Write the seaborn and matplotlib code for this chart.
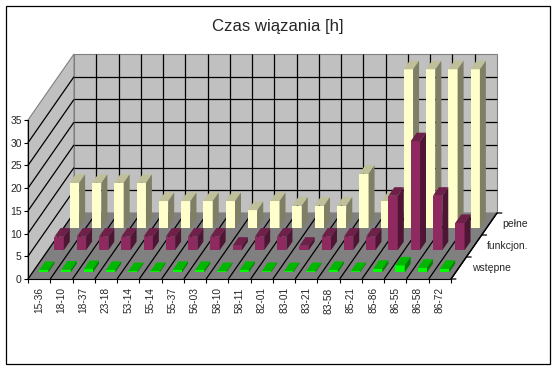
import matplotlib
matplotlib.use('Agg')
import matplotlib.pyplot as plt
from matplotlib.patches import Polygon, Rectangle
import pandas as pd
import seaborn as sns

# dane
kody = ['15-36', '18-10', '18-37', '23-18', '53-14', '55-14', '55-37', '56-03', '58-10', '58-11',
        '82-01', '83-01', '83-21', '83-58', '85-21', '85-86', '86-55', '86-58', '86-72']
pelne = [10, 10, 10, 10, 6, 6, 6, 6, 4, 6, 5, 5, 5, 12, 6, 35, 35, 35, 35]
funkcjon = [3, 3, 3, 3, 3, 3, 3, 3, 1, 3, 3, 1, 3, 3, 3, 12, 24, 12, 6]
wstepne = [0.5, 0.6, 0.7, 0.5, 0.25, 0.25, 0.5, 0.5, 0.25, 0.5, 0.25, 0.25, 0.25, 0.5, 0.25, 0.75, 1.5, 1, 0.75]
serie = ['wstępne', 'funkcjon.', 'pełne']
wartosci = [wstepne, funkcjon, pelne]
kolory = [('#00FF00', '#00B800', '#008000'), ('#8F2A60', '#6E2049', '#4E1634'), ('#FFFFCC', '#BFBF99', '#7F7F66')]
y_ticks = [0, 5, 10, 15, 20, 25, 30, 35]

sns.set_style('white')
plt.rcParams['font.family'] = ['Liberation Sans', 'DejaVu Sans']

W, H = 557, 370
fig = plt.figure(figsize=(W / 100, H / 100), dpi=100)
ax = fig.add_axes([28 / W, (H - 279) / H, 423 / W, 159 / H])
ax.patch.set_alpha(0)

n = len(kody)
px_x = 423 / n
px_y = 159 / 35
DX = 46 / px_x   # glebokosc wykresu w jednostkach danych
DY = 66 / px_y
SZER = 0.42
GLEB = 0.13


def rzut(x, y, z):
    return (x + z * DX, y + z * DY)


def sciana(punkty, kolor, zorder=0.1):
    ax.add_patch(Polygon([rzut(*p) for p in punkty], closed=True, fc=kolor, ec='#808080', lw=0.8,
                         zorder=zorder, clip_on=False))


def linia(p1, p2, kolor='black', lw=0.9, zorder=0.5):
    a, b = rzut(*p1), rzut(*p2)
    ax.plot([a[0], b[0]], [a[1], b[1]], color=kolor, lw=lw, zorder=zorder, clip_on=False,
            solid_capstyle='butt')


x0, x1 = -0.5, n - 0.5
sciana([(x0, 0, 1), (x1, 0, 1), (x1, 35, 1), (x0, 35, 1)], '#C0C0C0')
sciana([(x0, 0, 0), (x0, 0, 1), (x0, 35, 1), (x0, 35, 0)], '#C0C0C0')
sciana([(x0, 0, 0), (x1, 0, 0), (x1, 0, 1), (x0, 0, 1)], '#808080')

# siatka na scianach i podlodze
for t in y_ticks[1:-1]:
    linia((x0, t, 0), (x0, t, 1))
    linia((x0, t, 1), (x1, t, 1))
linia((x0, 0, 0), (x0, 0, 1))
for i in range(1, n + 1):
    linia((x0 + i, 0, 0), (x0 + i, 0, 1))
    if i < n:
        linia((x0 + i, 0, 1), (x0 + i, 35, 1))

# os glebokosci
for i in range(4):
    a = rzut(x1, 0, i / 3)
    ax.annotate('', xy=a, xytext=(3.5, 0), textcoords='offset points',
                arrowprops=dict(arrowstyle='-', lw=0.9, color='black', shrinkA=0, shrinkB=0),
                annotation_clip=False)
linia((x1, 0, 0), (x1, 0, 1), zorder=0.6)

# slupki: od tylnego szeregu do przedniego
for s in [2, 1, 0]:
    df = pd.DataFrame({'kod': kody, 'czas': wartosci[s]})
    przod, gora, bok = kolory[s]
    ile = len(ax.patches)
    sns.barplot(data=df, x='kod', y='czas', order=kody, color=przod, saturation=1, width=SZER,
                errorbar=None, ax=ax)
    z = (s + 0.5) / 3 - GLEB / 2
    przes = matplotlib.transforms.Affine2D().translate(z * DX, z * DY)
    slupki = [p for p in ax.patches[ile:]]
    for p in slupki:
        p.set_transform(przes + ax.transData)
        p.set_clip_on(False)
        p.set_zorder(2 + (2 - s))
        p.set_linewidth(0)
        l, r, h = p.get_x(), p.get_x() + p.get_width(), p.get_height()
        z2 = z + GLEB
        ax.add_patch(Polygon([rzut(l, h, z), rzut(r, h, z), rzut(r, h, z2), rzut(l, h, z2)], closed=True,
                             fc=gora, lw=0, zorder=2 + (2 - s), clip_on=False))
        ax.add_patch(Polygon([rzut(r, 0, z), rzut(r, 0, z2), rzut(r, h, z2), rzut(r, h, z)], closed=True,
                             fc=bok, lw=0, zorder=2 + (2 - s), clip_on=False))
    a = rzut(x1, 0, (s + 0.5) / 3)
    ax.annotate(serie[s], xy=a, xytext=(9.4, 0), textcoords='offset points', fontsize=7.5,
                va='center', ha='left', annotation_clip=False)

ax.set_xlim(x0, x1)
ax.set_ylim(0, 35)
ax.set_xlabel('')
ax.set_ylabel('')
ax.set_yticks(y_ticks)
ax.set_xticks([x0 + i for i in range(n + 1)])
ax.set_xticklabels([])
ax.set_xticks(range(n), labels=kody, minor=True)
ax.tick_params(axis='x', which='major', length=3, width=0.8, color='black', bottom=True)
ax.tick_params(axis='x', which='minor', length=0, labelsize=7.3, labelrotation=90, pad=6, bottom=True)
ax.tick_params(axis='y', length=3, width=0.8, color='black', labelsize=7.5, pad=1.5, left=True)
for strona in ['top', 'right']:
    ax.spines[strona].set_visible(False)
for strona in ['left', 'bottom']:
    ax.spines[strona].set_color('black')
    ax.spines[strona].set_linewidth(0.8)
    ax.spines[strona].set_zorder(6)

fig.text(278 / W, (H - 27) / H, 'Czas wiązania [h]', fontsize=12.1, ha='center', va='center')
fig.add_artist(Rectangle((5.5 / W, (H - 364) / H), 544.5 / W, 358.5 / H, transform=fig.transFigure,
                         fill=False, ec='black', lw=0.9))

fig.savefig('out.png', dpi=100)
